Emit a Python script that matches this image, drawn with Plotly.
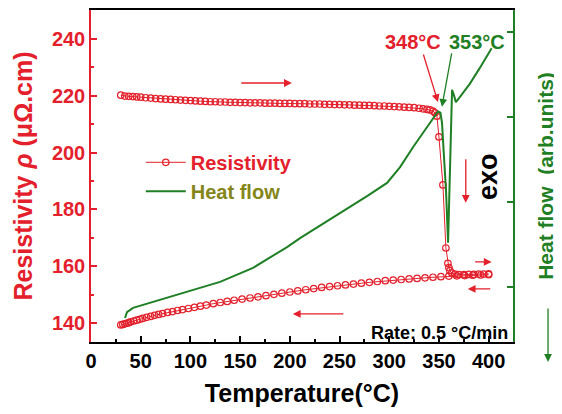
import plotly.graph_objects as go

# ---------------- data ----------------
heat_T = [30, 34, 38, 42, 46, 50, 55, 60, 65, 70, 75, 80, 85, 90, 95, 100, 105, 110, 115, 120,
          125, 130, 135, 140, 145, 150, 155, 160, 165, 170, 175, 180, 185, 190, 195, 200, 205,
          210, 215, 220, 225, 230, 235, 240, 245, 250, 255, 260, 265, 270, 275, 280, 285, 290,
          295, 300, 305, 310, 315, 320, 325, 330, 334, 338, 341, 344, 346, 348, 350, 354, 357,
          359, 360, 361, 363, 366, 370, 375, 380, 385, 390, 395, 400]
heat_R = [220.2, 219.9, 219.8, 219.7, 219.6, 219.5, 219.3, 219.2, 219.0, 218.9, 218.8, 218.7,
          218.6, 218.5, 218.4, 218.3, 218.2, 218.1, 218.0, 217.9, 217.9, 217.8, 217.8, 217.7,
          217.7, 217.6, 217.6, 217.5, 217.5, 217.5, 217.4, 217.4, 217.4, 217.3, 217.3, 217.3,
          217.2, 217.2, 217.2, 217.1, 217.1, 217.1, 217.0, 217.0, 216.9, 216.9, 216.8, 216.8,
          216.7, 216.7, 216.6, 216.6, 216.5, 216.4, 216.4, 216.3, 216.2, 216.1, 216.0, 215.9,
          215.8, 215.6, 215.4, 215.2, 215.0, 214.6, 214.0, 212.8, 205.5, 188.6, 166.4, 161.0,
          159.5, 158.4, 157.6, 157.2, 157.0, 157.0, 157.1, 157.1, 157.2, 157.2, 157.3]

cool_T = [400, 392, 384, 376, 368, 360, 352, 344, 336, 328, 320, 312, 304, 296, 288, 280, 272,
          264, 256, 248, 240, 232, 224, 216, 208, 200, 192, 184, 176, 168, 160, 152, 144, 137,
          130, 123, 116, 110, 104, 98, 92, 87, 82, 77, 72, 68, 64, 60, 56, 52, 49, 46, 43, 40,
          38, 36, 34, 32, 30]
cool_R = [157.0, 156.9, 156.8, 156.7, 156.6, 156.5, 156.3, 156.1, 155.9, 155.7, 155.5, 155.3,
          155.1, 154.9, 154.6, 154.3, 154.0, 153.7, 153.4, 153.1, 152.8, 152.5, 152.1, 151.7,
          151.3, 150.9, 150.5, 150.1, 149.6, 149.2, 148.8, 148.4, 148.0, 147.6, 147.2, 146.8,
          146.3, 145.9, 145.5, 145.1, 144.7, 144.4, 144.0, 143.7, 143.3, 143.0, 142.7, 142.3,
          142.0, 141.6, 141.3, 141.0, 140.7, 140.4, 140.1, 139.9, 139.7, 139.5, 139.3]

hf_T = [34.2, 36.2, 42.3, 62.4, 96.6, 129.8, 163, 197.2, 210.3, 230.4, 253.5, 277.7, 297.8,
        310.9, 323.9, 338, 346, 349, 351.5, 353.1, 355.1, 357.1, 359.2, 360.2, 361.2, 362.2,
        363.2, 365, 367, 371, 381, 391, 403]
hf_V = [12.7, 14.1, 15.1, 16.5, 18.8, 21.2, 24.5, 29.4, 31.5, 34.4, 37.9, 41.4, 44.5, 48.2,
        52.9, 57.6, 60.3, 61.3, 61.0, 58.6, 50.6, 42.8, 30.4, 40.5, 52.2, 61.6, 66.4, 65.2,
        63.5, 64.7, 67.8, 71.5, 76.2]

x_ticks = [0, 50, 100, 150, 200, 250, 300, 350, 400]
y_ticks = [140, 160, 180, 200, 220, 240]
y2_ticks = [20, 40, 60, 80]

RED = "#e3202b"
GREEN = "#1f7f24"
OLIVE = "#85861a"
FONT = "Liberation Sans, Arial, sans-serif"

fig = go.Figure()
fig.add_trace(go.Scatter(
    x=heat_T, y=heat_R, mode="lines+markers", name="Resistivity", legendgroup="r",
    line=dict(color=RED, width=1),
    marker=dict(symbol="circle-open", size=6.5, color=RED, line=dict(width=1.2, color=RED)),
))
fig.add_trace(go.Scatter(
    x=cool_T, y=cool_R, mode="lines+markers", name="Resistivity", legendgroup="r",
    showlegend=False,
    line=dict(color=RED, width=1),
    marker=dict(symbol="circle-open", size=6.5, color=RED, line=dict(width=1.2, color=RED)),
))
fig.add_trace(go.Scatter(
    x=hf_T, y=hf_V, mode="lines", yaxis="y2",
    name=f"<span style='color:{OLIVE}'>Heat flow</span>",
    line=dict(color=GREEN, width=2),
))

fig.update_layout(
    width=554, height=406,
    margin=dict(l=83, r=49, t=2, b=72, autoexpand=False),
    paper_bgcolor="white", plot_bgcolor="white",
    font=dict(family=FONT, size=18, color="black", weight="bold"),
    showlegend=True,
    legend=dict(x=0.118, y=0.6, xanchor="left", yanchor="top", bgcolor="rgba(0,0,0,0)",
                font=dict(family=FONT, size=20, color=RED, weight="bold"),
                itemwidth=40, tracegroupgap=0),
    xaxis=dict(
        range=[0, 424.5], tickvals=x_ticks, ticks="inside", ticklen=6, tickwidth=1.5,
        tickcolor="black", showline=True, linecolor="black", linewidth=1.5, mirror=True,
        showgrid=False, zeroline=False, automargin=False,
        tickfont=dict(family=FONT, size=20, color="black", weight="bold"),
        minor=dict(dtick=25, tick0=0, ticks="inside", ticklen=3, tickwidth=1.5, tickcolor="black"),
        title=dict(text="Temperature(°C)", standoff=14,
                   font=dict(family=FONT, size=25, color="black", weight="bold")),
    ),
    yaxis=dict(
        range=[133.3, 250.2], tickvals=y_ticks, ticks="inside", ticklen=6, tickwidth=1.5,
        tickcolor=RED, showline=True, linecolor=RED, linewidth=1.5,
        showgrid=False, zeroline=False, automargin=False,
        tickfont=dict(family=FONT, size=20, color=RED, weight="bold"),
        minor=dict(dtick=10, tick0=0, ticks="inside", ticklen=3, tickwidth=1.5, tickcolor=RED),
        title=dict(text="Resistivity <i>ρ</i> (μΩ.cm)", standoff=12,
                   font=dict(family=FONT, size=25, color=RED, weight="bold")),
    ),
    yaxis2=dict(
        overlaying="y", side="right", range=[7.06, 85.18], tickvals=y2_ticks,
        ticks="inside", ticklen=6, tickwidth=1.5, tickcolor=GREEN, showticklabels=False,
        showline=True, linecolor=GREEN, linewidth=1.5, showgrid=False, zeroline=False,
        automargin=False,
        title=dict(text="Heat flow  (arb.units)", standoff=25,
                   font=dict(family=FONT, size=21, color=GREEN, weight="bold")),
    ),
)

def arrow(x, y, ax, ay, color, xref="x", yref="y"):
    fig.add_annotation(x=x, y=y, xref=xref, yref=yref, ax=ax, ay=ay, axref="pixel", ayref="pixel",
                       text="", showarrow=True, arrowhead=2, arrowsize=1.2, arrowwidth=1.3,
                       arrowcolor=color)

# transition labels and pointers
fig.add_annotation(x=324, y=238.9, text="348°C", showarrow=False,
                   font=dict(family=FONT, size=20, color=RED, weight="bold"))
fig.add_annotation(x=388.3, y=238.9, text="353°C", showarrow=False,
                   font=dict(family=FONT, size=20, color=GREEN, weight="bold"))
arrow(349, 217.8, -15, -49, RED)
arrow(353, 216.1, 10, -55, GREEN)

# direction arrows
arrow(202, 224.5, -52, 0, RED)
arrow(403, 161.5, -18, 0, RED)
arrow(379, 152.0, 24, 0, RED)
arrow(203, 143.2, 52, 0, RED)
arrow(377, 182.3, 0, -45, RED)

fig.add_annotation(x=399.4, y=191.4, text="exo", textangle=-90, showarrow=False,
                   font=dict(family=FONT, size=27, color="black", weight="bold"))
fig.add_annotation(x=421.5, y=136.5, xanchor="right", text="Rate: 0.5 °C/min", showarrow=False,
                   font=dict(family=FONT, size=18, color="black", weight="bold"))

# downward arrow under right axis title
arrow(1.083, -0.06, 0, -55, GREEN, xref="paper", yref="paper")

fig.write_html("out.html")
